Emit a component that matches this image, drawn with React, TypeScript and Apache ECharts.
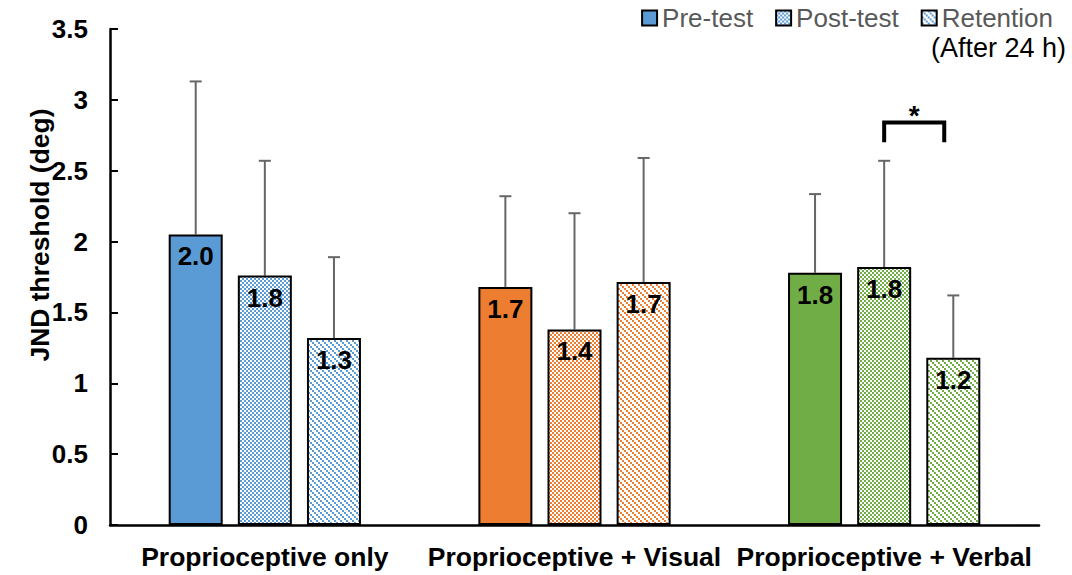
import React, { useEffect, useRef } from 'react';
import * as echarts from 'echarts';

const categories = ['Proprioceptive only', 'Proprioceptive + Visual', 'Proprioceptive + Verbal'];
const seriesNames = ['Pre-test', 'Post-test', 'Retention'];
const preTest = [2.05, 1.68, 1.78];
const postTest = [1.76, 1.38, 1.82];
const retention = [1.32, 1.715, 1.18];
const preSD = [1.08, 0.64, 0.555];
const postSD = [0.81, 0.82, 0.75];
const retSD = [0.57, 0.875, 0.44];
const groupColors = ['#5B9BD5', '#ED7D31', '#70AD47'];
const yMin = 0;
const yMax = 3.5;
const yInterval = 0.5;
const yAxisName = 'JND threshold (deg)';
const legendNote = '(After 24 h)';
const sigCategory = 2;
const sigTop = 2.84;
const sigBottom = 2.7;
const sigLabel = '*';

const FONT = '"Liberation Sans", Arial, sans-serif';
const BAR_FRAC = 0.1744;
const GAP_FRAC = 0.28;

function makeChecker(color: string) {
  const c = document.createElement('canvas');
  c.width = 4;
  c.height = 4;
  const ctx = c.getContext('2d')!;
  ctx.fillStyle = '#ffffff';
  ctx.fillRect(0, 0, 4, 4);
  ctx.fillStyle = color;
  ctx.fillRect(0, 0, 2, 2);
  ctx.fillRect(2, 2, 2, 2);
  return { image: c, repeat: 'repeat', imageWidth: 4, imageHeight: 4 } as any;
}

function makeStripes(color: string) {
  const n = 6;
  const c = document.createElement('canvas');
  c.width = n;
  c.height = n;
  const ctx = c.getContext('2d')!;
  ctx.fillStyle = '#ffffff';
  ctx.fillRect(0, 0, n, n);
  ctx.fillStyle = color;
  for (let y = 0; y < n; y++) {
    for (let x = 0; x < n; x++) {
      const d = (((Math.floor(x / 2) - Math.floor(y / 2)) % 3) + 3) % 3;
      if (d === 0) ctx.fillRect(x, y, 1, 1);
    }
  }
  return { image: c, repeat: 'repeat', imageWidth: n, imageHeight: n } as any;
}

export default function App() {
  const ref = useRef<HTMLDivElement>(null);
  useEffect(() => {
    document.body.style.margin = '0';
    const chart = echarts.init(ref.current!, null, { renderer: 'svg' });
    const valuesBySeries = [preTest, postTest, retention];
    const sdBySeries = [preSD, postSD, retSD];
    const fills = [
      (c: string) => c,
      (c: string) => makeChecker(c),
      (c: string) => makeStripes(c),
    ];

    const barSeries = seriesNames.map((name, si) => ({
      name,
      type: 'bar',
      barWidth: (BAR_FRAC * 100).toFixed(2) + '%',
      barGap: (GAP_FRAC * 100) + '%',
      itemStyle: { color: fills[si](groupColors[0]), borderColor: '#000', borderWidth: 2 },
      label: {
        show: true,
        position: 'insideTop',
        distance: 9,
        color: '#000',
        fontFamily: FONT,
        fontWeight: 'bold',
        fontSize: 26,
        formatter: (p: any) => Number(p.value).toFixed(1),
      },
      data: valuesBySeries[si].map((v, ci) => ({
        value: v,
        itemStyle: { color: fills[si](groupColors[ci]) },
      })),
      z: 3,
    }));

    const errData: number[][] = [];
    seriesNames.forEach((_, si) => {
      categories.forEach((_, ci) => {
        errData.push([ci, si, valuesBySeries[si][ci], sdBySeries[si][ci]]);
      });
    });

    const errSeries = {
      type: 'custom',
      name: 'err',
      z: 2,
      encode: { x: 0, y: 2 },
      data: errData,
      renderItem: (params: any, api: any) => {
        const cat = api.value(0);
        const sIdx = api.value(1);
        const mean = api.value(2);
        const sd = api.value(3);
        const bw = api.size([1, 0])[0];
        const barW = bw * BAR_FRAC;
        const step = barW * (1 + GAP_FRAC);
        const base = api.coord([cat, mean]);
        const top = api.coord([cat, mean + sd]);
        const x = base[0] + (sIdx - 1) * step;
        const style = { stroke: '#666666', lineWidth: 2 };
        return {
          type: 'group',
          children: [
            { type: 'line', shape: { x1: x, y1: base[1], x2: x, y2: top[1] }, style },
            { type: 'line', shape: { x1: x - 6, y1: top[1], x2: x + 6, y2: top[1] }, style },
          ],
        };
      },
    };

    const sigSeries = {
      type: 'custom',
      name: 'sig',
      z: 4,
      encode: { x: 0, y: 1 },
      data: [[sigCategory, sigTop, sigBottom]],
      renderItem: (params: any, api: any) => {
        const cat = api.value(0);
        const topV = api.value(1);
        const botV = api.value(2);
        const bw = api.size([1, 0])[0];
        const pTop = api.coord([cat, topV]);
        const pBot = api.coord([cat, botV]);
        const x1 = pTop[0];
        const x2 = pTop[0] + bw * 0.194;
        return {
          type: 'group',
          children: [
            {
              type: 'polyline',
              shape: { points: [[x1, pBot[1]], [x1, pTop[1]], [x2, pTop[1]], [x2, pBot[1]]] },
              style: { stroke: '#000', lineWidth: 4, fill: null },
            },
            {
              type: 'text',
              x: (x1 + x2) / 2,
              y: pTop[1] - 7,
              style: {
                text: sigLabel,
                fill: '#000',
                font: `bold 28px ${FONT}`,
                textAlign: 'center',
                textVerticalAlign: 'middle',
              },
            },
          ],
        };
      },
    };

    chart.setOption({
      animation: false,
      textStyle: { fontFamily: FONT },
      grid: { left: 110, right: 33, top: 29, bottom: 50, containLabel: false },
      legend: {
        data: seriesNames,
        right: 14,
        top: 0,
        itemWidth: 15,
        itemHeight: 15,
        itemGap: 22,
        icon: 'rect',
        textStyle: { color: '#595959', fontSize: 26, fontFamily: FONT },
      },
      xAxis: {
        type: 'category',
        data: categories,
        axisLine: { lineStyle: { color: '#000', width: 2.5 } },
        axisTick: { show: false },
        axisLabel: { color: '#000', fontWeight: 'bold', fontSize: 26.5, fontFamily: FONT, margin: 18, interval: 0 },
        splitLine: { show: false },
      },
      yAxis: {
        type: 'value',
        min: yMin,
        max: yMax,
        interval: yInterval,
        axisLine: { show: true, lineStyle: { color: '#000', width: 2.5 } },
        axisTick: { show: true, inside: true, length: 8, lineStyle: { color: '#000', width: 2 } },
        axisLabel: { color: '#000', fontWeight: 'bold', fontSize: 26, fontFamily: FONT, margin: 22 },
        splitLine: { show: false },
      },
      graphic: [
        {
          type: 'text',
          x: 40,
          y: 235,
          rotation: Math.PI / 2,
          style: {
            text: yAxisName,
            fill: '#000',
            font: `bold 26.5px ${FONT}`,
            textAlign: 'center',
            textVerticalAlign: 'middle',
          },
        },
        {
          type: 'text',
          right: 6,
          top: 34,
          style: {
            text: legendNote,
            fill: '#000',
            font: `27px ${FONT}`,
          },
        },
      ],
      series: [...barSeries, errSeries, sigSeries],
    } as any);
    return () => chart.dispose();
  }, []);
  return <div ref={ref} style={{ width: 1072, height: 575 }} />;
}
